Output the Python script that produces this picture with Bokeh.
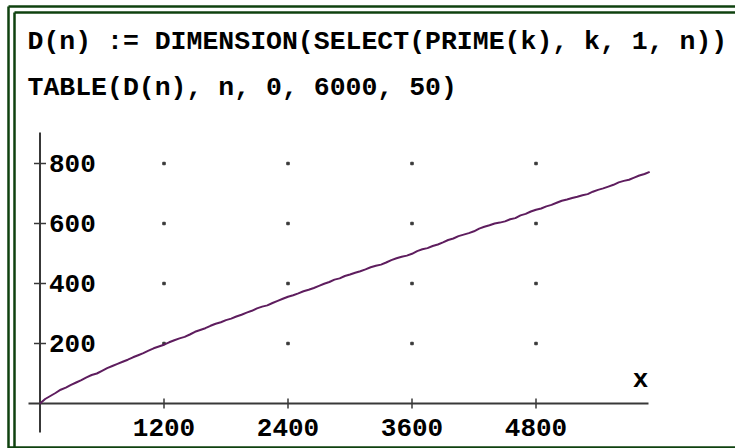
from bokeh.plotting import figure
from bokeh.models import Range1d, Label, ColumnDataSource
from bokeh.core.properties import value
from bokeh.embed import file_html
from bokeh.resources import INLINE

# ---- data: D(n) = number of primes <= n, n = 0, 50, ... (visible part) ----
n_values = list(range(0, 5901, 50))
d_values = [
    0, 15, 25, 35, 46, 53, 62, 70, 78, 87, 95, 100, 109, 118, 125, 132, 139, 146, 154, 161,
    168, 176, 184, 190, 196, 204, 211, 217, 222, 230, 239, 245, 251, 259, 266, 271, 278, 283, 290, 296,
    303, 309, 317, 323, 327, 335, 342, 349, 356, 361, 367, 374, 379, 385, 392, 399, 405, 413, 417, 425,
    430, 436, 441, 447, 454, 459, 463, 470, 478, 484, 489, 493, 499, 508, 514, 518, 525, 530, 537, 545,
    550, 558, 563, 568, 574, 583, 589, 594, 600, 603, 607, 614, 618, 627, 632, 640, 646, 650, 657, 662,
    669, 676, 680, 685, 689, 694, 698, 706, 712, 717, 723, 729, 737, 742, 746, 753, 760, 765, 772,
]
x_ticks = [1200, 2400, 3600, 4800]
x_tick_labels = ["1200", "2400", "3600", "4800"]
y_ticks = [200, 400, 600, 800]
y_tick_labels = ["200", "400", "600", "800"]
header_lines = ["D(n) := DIMENSION(SELECT(PRIME(k), k, 1, n))",
                "TABLE(D(n), n, 0, 6000, 50)"]
axis_label = "x"

# ---- layout (picture pixels -> data) ----
W, H = 735, 448
OX, OY = 39.5, 403.0          # picture position of data origin
SX = 124.0 / 1200.0           # px per x unit
SY = 0.3                      # px per y unit
TXT = -8                      # text baseline correction (px)

def dx(px):   # picture x -> data x
    return (px - OX) / SX

def dy(py):   # picture y -> data y
    return (OY - py) / SY

FONT = "Liberation Mono"
FS = "26px"
AXIS_COLOR = "#383838"
CURVE_COLOR = "#5e1d5e"
GREEN = "#0f420f"

p = figure(width=W, height=H, output_backend="svg", toolbar_location=None,
           x_range=Range1d(dx(0), dx(W)), y_range=Range1d(dy(H), dy(0)),
           x_axis_type=None, y_axis_type=None, min_border=0,
           min_border_left=0, min_border_right=0, min_border_top=0, min_border_bottom=0)
p.grid.visible = False
p.outline_line_color = None
p.background_fill_color = "white"
p.border_fill_color = "white"

# ---- window borders (double green frame) ----
p.segment(x0=[dx(8), dx(14)], y0=[dy(6), dy(12)], x1=[dx(8), dx(14)], y1=[dy(450), dy(450)],
          line_color=GREEN, line_width=2.5)
p.segment(x0=[dx(8), dx(14)], y0=[dy(6), dy(12)], x1=[dx(760), dx(760)], y1=[dy(6), dy(12)],
          line_color=GREEN, line_width=2.5)
p.segment(x0=[dx(8)], y0=[dy(447)], x1=[dx(760)], y1=[dy(447)],
          line_color=GREEN, line_width=2.5)

# ---- header text ----
for i, t in enumerate(header_lines):
    p.add_layout(Label(x=dx(27), y=dy(49 + 46 * i + TXT), text=t, text_font=FONT,
                       text_font_style="bold", text_font_size="26.5px", text_color="black",
                       text_baseline="alphabetic", text_align="left"))

# ---- axes ----
p.segment(x0=[0], y0=[dy(432)], x1=[0], y1=[dy(132)], line_color=AXIS_COLOR, line_width=2)
p.segment(x0=[dx(28)], y0=[0], x1=[dx(648)], y1=[0], line_color=AXIS_COLOR, line_width=2)

# ticks
p.segment(x0=[dx(OX - 6)] * len(y_ticks), y0=y_ticks, x1=[dx(OX + 6)] * len(y_ticks), y1=y_ticks,
          line_color=AXIS_COLOR, line_width=1.5)
p.segment(x0=x_ticks, y0=[dy(OY + 5)] * len(x_ticks), x1=x_ticks, y1=[dy(OY - 5)] * len(x_ticks),
          line_color=AXIS_COLOR, line_width=1.5)

# tick labels
ysrc = ColumnDataSource(dict(x=[0] * len(y_ticks), y=y_ticks, t=y_tick_labels))
p.text(x="x", y="y", text="t", source=ysrc, x_offset=9, y_offset=8 + TXT,
       text_font=value(FONT), text_font_style="bold", text_font_size=FS,
       text_align="left", text_baseline="alphabetic", text_color="black")
xsrc = ColumnDataSource(dict(x=x_ticks, y=[0] * len(x_ticks), t=x_tick_labels))
p.text(x="x", y="y", text="t", source=xsrc, x_offset=0, y_offset=32 + TXT,
       text_font=value(FONT), text_font_style="bold", text_font_size=FS,
       text_align="center", text_baseline="alphabetic", text_color="black")

# grid dots
gx = [x for x in x_ticks for _ in y_ticks]
gy = [y for _ in x_ticks for y in y_ticks]
p.scatter(gx, gy, size=2.5, color=AXIS_COLOR, marker="square")

# axis name
p.text(x=[dx(640)], y=[dy(387 + TXT)], text=[axis_label], text_font=value(FONT),
       text_font_style="bold", text_font_size=FS, text_align="center",
       text_baseline="alphabetic", text_color="black")

# ---- curve ----
p.line(n_values, d_values, line_color=CURVE_COLOR, line_width=2)

open("out.html", "w").write(file_html(p, INLINE))
